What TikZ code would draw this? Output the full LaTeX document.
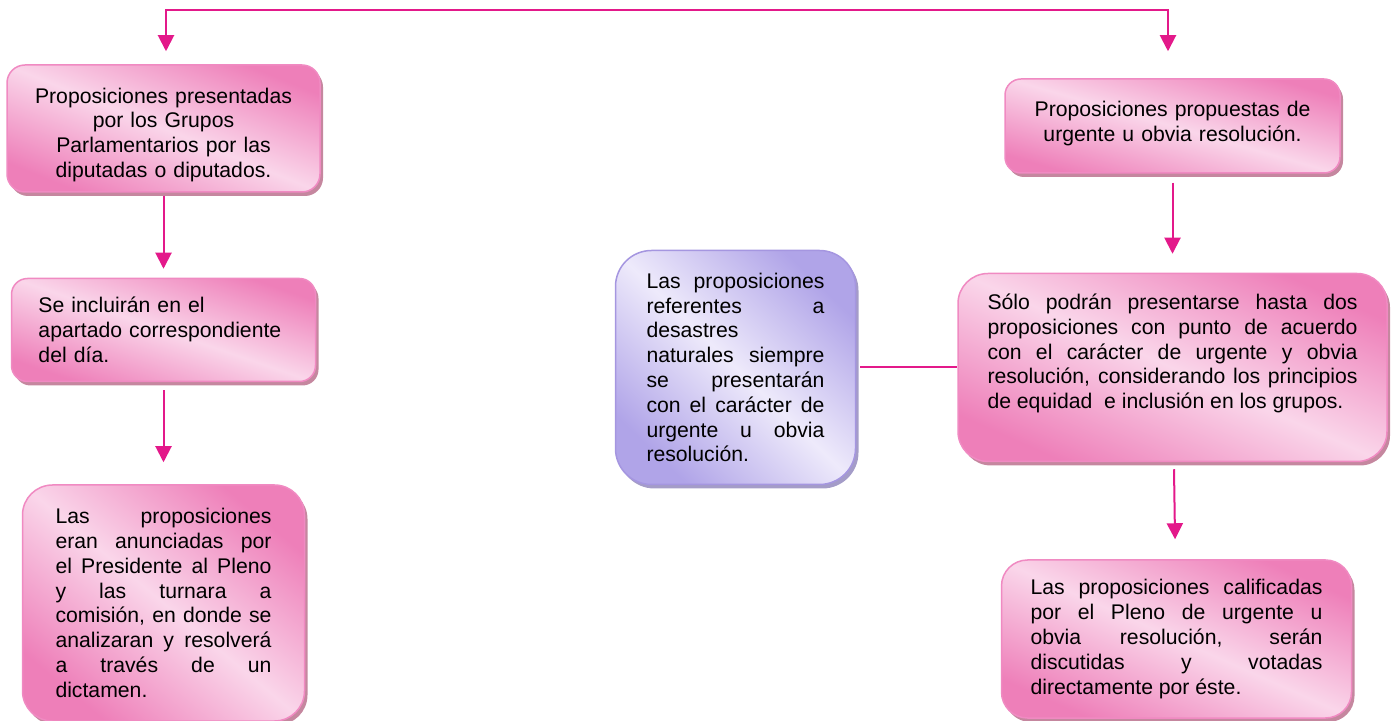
\documentclass[tikz,border=0pt]{standalone}
\usepackage{fontspec}
\setmainfont{Liberation Sans}
\usepackage{xcolor}
\usetikzlibrary{arrows.meta, positioning, shadows}
\definecolor{pinkdark}{HTML}{EE7FB9}
\definecolor{pinklight}{HTML}{FAD6EA}
\definecolor{pinkline}{HTML}{F08AC2}
\definecolor{pinkshadow}{HTML}{C5879F}
\definecolor{purpledark}{HTML}{B0A4E8}
\definecolor{purplelight}{HTML}{EEEAFB}
\definecolor{purpleline}{HTML}{A596E0}
\definecolor{purpleshadow}{HTML}{A49CC8}
\definecolor{linkpink}{HTML}{E3198A}
\tikzstyle{arrow} = [line width=1pt, draw=linkpink, -{Triangle[width=8pt,length=8pt]}]
\tikzstyle{link} = [line width=1pt, draw=linkpink, line cap=rect]
\hyphenpenalty=10000
\tolerance=10000
\hbadness=10000

\begin{document}
\begin{tikzpicture}[
        x=0.5pt, y=-0.5pt,
        font=\fontsize{10.6}{12.4}\selectfont,
        pinkbox/.style={draw=pinkline, line width=0.75pt, inner sep=3pt,
            top color=pinkdark, bottom color=pinkdark, middle color=pinklight, shading angle=#1,
            drop shadow={shadow xshift=1.5pt, shadow yshift=-2pt, fill=pinkshadow, opacity=1}},
        pinkbox/.default=-45,
        purplebox/.style={draw=purpleline, line width=0.75pt, inner sep=3pt,
            top color=purpledark, bottom color=purpledark, middle color=purplelight, shading angle=-44,
            drop shadow={shadow xshift=1.5pt, shadow yshift=-2pt, fill=purpleshadow, opacity=1}}
    ]
        \useasboundingbox (0,0) rectangle (1393,721);

        % Left column
        \node[pinkbox=-22, rounded corners=9pt, minimum width=156.5pt, minimum height=63.5pt, text width=135pt, align=center] (pres) at (163.5,128.5) {\rule{0pt}{14pt}Proposiciones presentadas\\ por los Grupos\\ Parlamentarios por las\\ diputadas o diputados.};
        \node[pinkbox=-19, rounded corners=8pt, minimum width=152pt, minimum height=51.5pt, text width=125pt, align=left, below=42.5pt of pres] (incl) {Se incluirán en el\\ apartado correspondiente\\ del día.};
        \node[pinkbox=-40, rounded corners=15pt, minimum width=141pt, minimum height=118pt, text width=108pt, align=justify, below=51pt of incl] (anun) {Las proposiciones\linebreak eran anunciadas por\linebreak el Presidente al Pleno\linebreak y las turnara a\linebreak comisión, en donde se\linebreak analizaran y resolverá\linebreak a través de un\linebreak dictamen.};

        % Right column
        \node[pinkbox=-16, rounded corners=8pt, minimum width=167.5pt, minimum height=47pt, text width=145pt, align=center] (urg) at (1172.5,126) {Proposiciones propuestas de\\ urgente u obvia resolución.\\[-8pt] \mbox{}};
        \node[pinkbox=-24, rounded corners=15pt, minimum width=214.5pt, minimum height=94pt, text width=185pt, align=justify, below=49.5pt of urg] (solo) {Sólo podrán presentarse hasta dos\linebreak proposiciones con punto de acuerdo\linebreak con el carácter de urgente y obvia\linebreak resolución, considerando los principios\linebreak de equidad\ \ e inclusión en los grupos.\par\rule{0pt}{13pt}};
        \node[pinkbox=-24, rounded corners=13pt, minimum width=175pt, minimum height=79pt, text width=146pt, align=justify, below=48.5pt of solo, xshift=2pt] (calif) {Las proposiciones calificadas\linebreak por el Pleno de urgente u\linebreak obvia resolución, serán\linebreak discutidas y votadas\linebreak directamente por éste.};

        % Middle box
        \node[purplebox, rounded corners=18pt, minimum width=120pt, minimum height=117pt, text width=89pt, align=justify, left=50.5pt of solo] (desas) {Las proposiciones\linebreak referentes a\linebreak desastres\linebreak naturales siempre\linebreak se presentarán\linebreak con el carácter de\linebreak urgente u obvia\linebreak resolución.};

        % Arrows
        \coordinate (tl) at (166,10);
        \coordinate (tr) at (1168,10);
        \draw[link] (tl) -- (tr);
        \draw[arrow] (tl) -- ([yshift=6.5pt]pres.north -| tl);
        \draw[arrow] (tr) -- ([yshift=13.5pt]urg.north -| tr);
        \draw[arrow, shorten <=1.5pt, shorten >=4.5pt] (pres) -- (incl);
        \draw[arrow, shorten <=4pt, shorten >=11pt] (incl) -- (anun);
        \draw[arrow, shorten <=4.5pt, shorten >=9.5pt] (urg) -- (solo);
        \draw[arrow, shorten <=3.5pt, shorten >=10pt] (solo) -- (calif);
        \draw[link, line cap=butt, shorten <=2pt] (desas) -- (solo);
    \end{tikzpicture}
\end{document}
